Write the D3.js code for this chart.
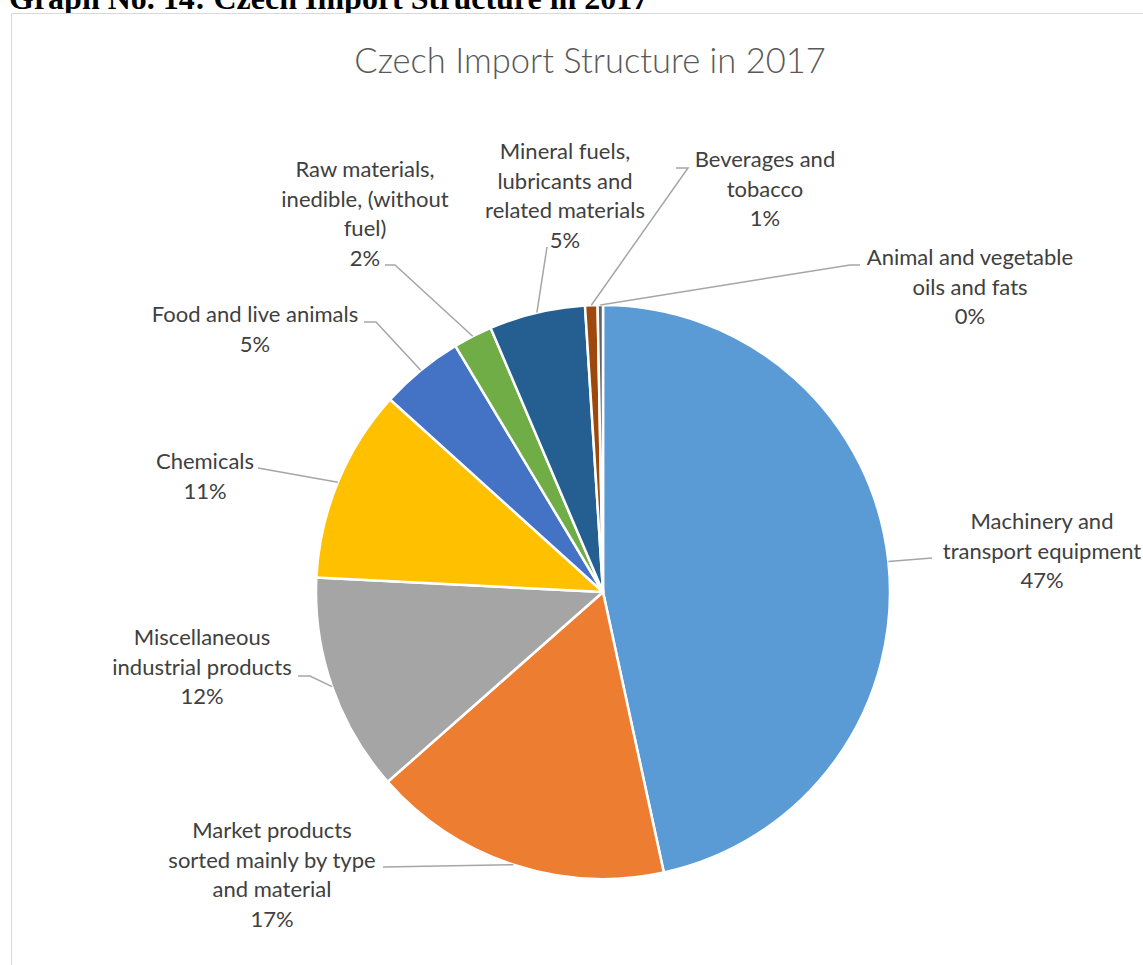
<!DOCTYPE html>
<html>
<head>
<meta charset="utf-8">
<script src="https://cdnjs.cloudflare.com/ajax/libs/d3/7.8.5/d3.min.js"></script>
<style>
  body { margin: 0; background: #fff; }
  svg { display: block; }
</style>
</head>
<body>
<svg width="1143" height="965"></svg>
<script>
var categories = [
  "Machinery and transport equipment",
  "Market products sorted mainly by type and material",
  "Miscellaneous industrial products",
  "Chemicals",
  "Food and live animals",
  "Raw materials, inedible, (without fuel)",
  "Mineral fuels, lubricants and related materials",
  "Beverages and tobacco",
  "Animal and vegetable oils and fats"
];
var shares = [46.6, 16.9, 12.3, 10.9, 4.7, 2.2, 5.4, 0.7, 0.3];
var pctLabels = ["47%", "17%", "12%", "11%", "5%", "2%", "5%", "1%", "0%"];
var labelLines = [
  ["Machinery and", "transport equipment"],
  ["Market products", "sorted mainly by type", "and material"],
  ["Miscellaneous", "industrial products"],
  ["Chemicals"],
  ["Food and live animals"],
  ["Raw materials,", "inedible, (without", "fuel)"],
  ["Mineral fuels,", "lubricants and", "related materials"],
  ["Beverages and", "tobacco"],
  ["Animal and vegetable", "oils and fats"]
];
var colors = ["#5B9BD5", "#ED7D31", "#A5A5A5", "#FFC000", "#4472C4",
  "#70AD47", "#255E91", "#9E480E", "#636363"];

// label layout: text centre x, first baseline y, and leader elbow point
var labelLayout = [
  { x: 1042, y: 529, elbow: [932, 558] },
  { x: 272, y: 838, elbow: [383, 867] },
  { x: 202, y: 645, elbow: [298, 676], knee: [310, 676] },
  { x: 205, y: 469, elbow: [258, 468] },
  { x: 255, y: 322, elbow: [364, 322], knee: [376, 322] },
  { x: 365, y: 177, elbow: [385, 265], knee: [395, 265] },
  { x: 565, y: 159, elbow: [547, 247] },
  { x: 765, y: 167, elbow: [676, 168], knee: [688, 168] },
  { x: 970, y: 265, elbow: [860, 265], knee: [850, 265] }
];

var svg = d3.select("svg"),
  cx = 603,
  cy = 592,
  radius = 287,
  lineH = 29.5;

svg.append("text")
  .attr("x", 9)
  .attr("y", 9)
  .style("font-family", "'Liberation Serif', 'Times New Roman', serif")
  .style("font-weight", "bold")
  .style("font-size", "32px")
  .attr("fill", "#000")
  .text("Graph No. 14: Czech Import Structure in 2017");

svg.append("rect")
  .attr("x", 11.5)
  .attr("y", 13.5)
  .attr("width", 1143)
  .attr("height", 1000)
  .attr("fill", "#fff")
  .attr("stroke", "#d9d9d9");

svg.append("text")
  .attr("x", 590)
  .attr("y", 73)
  .attr("text-anchor", "middle")
  .style("font-family", "Lato, 'Open Sans', sans-serif")
  .style("font-weight", 300)
  .style("font-size", "34.5px")
  .attr("fill", "#595959")
  .text("Czech Import Structure in 2017");

var data = categories.map(function(c, i) {
  return { name: c, value: shares[i], pct: pctLabels[i], lines: labelLines[i], color: colors[i], lay: labelLayout[i] };
});

var pie = d3.pie()
  .sort(null)
  .value(function(d) { return d.value; });

var arc = d3.arc().innerRadius(0).outerRadius(radius);

var g = svg.append("g")
  .attr("transform", "translate(" + cx + "," + cy + ")");

var arcs = pie(data);

g.selectAll(".slice")
  .data(arcs)
  .enter()
  .append("path")
  .attr("class", "slice")
  .attr("d", arc)
  .attr("fill", function(d) { return d.data.color; })
  .attr("stroke", "#fff")
  .attr("stroke-width", 2.5)
  .attr("stroke-linejoin", "round");

// leader lines
svg.selectAll(".leader")
  .data(arcs)
  .enter()
  .append("polyline")
  .attr("class", "leader")
  .attr("points", function(d) {
    var a = (d.startAngle + d.endAngle) / 2,
      px = cx + radius * Math.sin(a),
      py = cy - radius * Math.cos(a),
      pts = [d.data.lay.elbow];
    if (d.data.lay.knee) pts.push(d.data.lay.knee);
    pts.push([px, py]);
    return pts.map(function(p) { return p[0] + "," + p[1]; }).join(" ");
  })
  .attr("fill", "none")
  .attr("stroke", "#a6a6a6")
  .attr("stroke-width", 1.5);

var labels = svg.selectAll(".label")
  .data(arcs)
  .enter()
  .append("text")
  .attr("class", "label")
  .attr("text-anchor", "middle")
  .style("font-family", "Lato, 'Open Sans', sans-serif")
  .style("font-size", "22px")
  .attr("fill", "#404040");

labels.each(function(d) {
  var t = d3.select(this),
    lines = d.data.lines.concat([d.data.pct]);
  lines.forEach(function(s, i) {
    t.append("tspan")
      .attr("x", d.data.lay.x)
      .attr("y", d.data.lay.y + i * lineH)
      .text(s);
  });
});
</script>
</body>
</html>
